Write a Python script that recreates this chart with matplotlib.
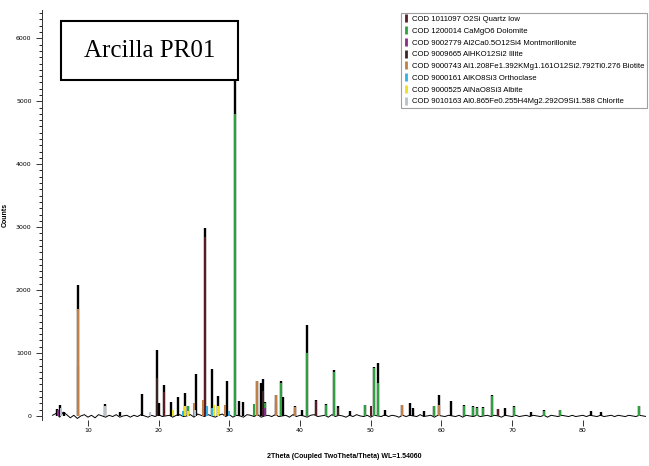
import matplotlib.pyplot as plt
from matplotlib.lines import Line2D
from matplotlib.patches import Rectangle

# measured pattern: peak positions (2theta) and heights (counts)
peak_pos = [5.6, 6.1, 6.6, 8.6, 12.4, 14.5, 17.6, 19.7, 20.0, 20.7, 21.8, 22.7,
            23.7, 24.1, 25.3, 26.5, 27.6, 28.4, 29.7, 30.85, 31.3, 31.9, 33.9,
            34.5, 34.8, 35.1, 36.6, 37.3, 37.6, 39.3, 40.3, 41.0, 42.3, 43.7,
            44.8, 45.3, 47.0, 49.2, 50.4, 51.0, 52.0, 54.4, 55.5, 56.0, 57.5,
            58.9, 59.7, 61.4, 63.2, 64.4, 65.1, 65.9, 67.2, 68.0, 69.0, 70.3,
            72.7, 74.5, 76.8, 81.1, 82.5, 87.9]
peak_cnt = [110, 170, 60, 2080, 190, 60, 350, 1050, 210, 490, 220, 300,
            370, 150, 670, 2980, 740, 320, 550, 6200, 230, 220, 560,
            520, 590, 220, 330, 560, 300, 150, 100, 1440, 250, 190,
            730, 150, 80, 180, 780, 840, 100, 170, 200, 120, 80,
            160, 330, 240, 170, 150, 140, 140, 330, 110, 130, 150,
            60, 90, 100, 80, 70, 160]

# background wiggle, one value per half degree from 5 to 89
bg_x = [5 + 0.5 * i for i in range(169)]
bg_y = [10, 40, -20, 60, 20, -30, 10, -40, 0, 20, -20, 10, -30, 20, 0, -20,
        10, -10, 20, -20, 0, 10, -20, 10, -10, 20, 0, -20, 10, -10, 20, -10,
        0, 10, -20, 10, 20, -10, 0, 20, -20, 30, 10, -10, 20, 0, -20, 10,
        30, -10, 20, -20, 10, 0, -20, 20, 10, -10, 20, -20, 0, 10, -10, 20,
        -10, 0, 10, -20, 20, -10, 10, 0, -20, 10, 20, -10, 0, 10, -20, 20,
        -10, 10, 0, -20, 10, -10, 20, 0, -10, 10, -20, 10, 0, -10, 20, -10,
        10, 0, -20, 10, -10, 10, 0, -10, 20, -10, 0, 10, -20, 10, 0, -10,
        10, 0, -10, 10, -20, 10, 0, -10, 10, -10, 0, 10, -10, 10, 0, -20,
        10, 0, -10, 10, -10, 0, 10, -10, 10, 0, -10, 10, -20, 10, 0, -10,
        10, 0, -10, 10, -10, 0, 10, -10, 10, 0, -10, 10, -10, 0, 10, -10,
        10, 0, -10, 10, 0, -10, 10, 0, -10]

phases = [
    ("COD 1011097 O2Si Quartz low", "#5c1a22",
     [20.7, 26.5, 36.6, 39.3, 42.3, 50.1, 59.7, 68.0],
     [380, 2850, 200, 120, 230, 150, 150, 110]),
    ("COD 1200014 CaMgO6 Dolomite", "#2ea040",
     [24.1, 30.85, 33.5, 35.1, 37.3, 41.0, 43.7, 44.8, 49.2, 50.4, 51.0,
      58.9, 63.2, 64.4, 65.1, 65.9, 67.2, 70.3, 74.5, 76.8, 87.9],
     [150, 4800, 190, 200, 520, 1000, 180, 700, 170, 760, 520,
      150, 160, 140, 130, 130, 320, 140, 80, 90, 150]),
    ("COD 9002779 Al2Ca0.5O12Si4 Montmorillonite", "#8a2a8a",
     [5.8, 19.7, 35.0], [100, 150, 120]),
    ("COD 9009665 AlHKO12Si2 Illite", "#3d2424",
     [8.6, 19.7, 34.8, 45.3], [800, 600, 400, 120]),
    ("COD 9000743 Al1.208Fe1.392KMg1.161O12Si2.792Ti0.276 Biotite", "#c08045",
     [8.6, 25.0, 26.3, 29.4, 33.9, 36.6, 39.3, 54.4, 59.7],
     [1700, 200, 250, 170, 560, 330, 140, 170, 180]),
    ("COD 9000161 AlKO8Si3 Orthoclase", "#30b0e8",
     [23.5, 26.9, 27.6, 29.9], [80, 150, 120, 80]),
    ("COD 9000525 AlNaO8Si3 Albite", "#e8e020",
     [22.0, 23.7, 24.2, 27.9, 28.4], [100, 150, 80, 180, 150]),
    ("COD 9010163 Al0.865Fe0.255H4Mg2.292O9Si1.588 Chlorite", "#b8c0cc",
     [6.2, 12.4, 18.8, 25.1], [120, 150, 60, 100]),
]

fig = plt.figure(figsize=(6.49, 4.66), dpi=100)
ax = fig.add_axes([0.0647, 0.0987, 0.9303, 0.8798])

ax.plot(bg_x, bg_y, color="black", lw=0.7, zorder=2)
ax.vlines(peak_pos, 0, peak_cnt, color="black", lw=1.7, zorder=2)
for name, col, pos, cnt in phases:
    ax.vlines(pos, 0, cnt, color=col, lw=1.5, zorder=3)

ax.set_xlim(3.5, 88.9)
ax.set_ylim(-65, 6450)
ax.set_xticks(range(10, 90, 10))
ax.set_yticks(range(0, 7000, 1000))
ax.set_yticks(range(0, 6500, 100), minor=True)
ax.tick_params(axis="both", labelsize=4.5, length=4, width=0.7, color="#333333")
ax.tick_params(axis="y", which="minor", length=2, width=0.6)
ax.tick_params(axis="x", pad=2)
for s in ["top", "right", "bottom"]:
    ax.spines[s].set_visible(False)
ax.spines["left"].set_color("#333333")
ax.spines["left"].set_linewidth(0.7)

ax.set_xlabel("2Theta (Coupled TwoTheta/Theta) WL=1.54060", fontsize=5,
              family="Liberation Sans", fontweight="bold", labelpad=14)
ax.set_ylabel("Counts", fontsize=5, family="Liberation Sans",
              fontweight="bold", labelpad=5)

handles = [Line2D([], [], marker="|", ls="none", color=c, markersize=6,
                  markeredgewidth=2) for _, c, _, _ in phases]
leg = fig.legend(handles, [p[0] for p in phases], loc="upper right",
                 bbox_to_anchor=(647 / 649, 1 - 13 / 466),
                 frameon=True, fancybox=False, handlelength=0.5,
                 handletextpad=0.5, labelspacing=0.55, borderpad=0.35,
                 borderaxespad=0, prop={"family": "Liberation Sans",
                                        "size": 5.6})
leg.get_frame().set_edgecolor("#888888")
leg.get_frame().set_linewidth(0.8)

# sample label box
fig.patches.append(Rectangle((61 / 649, 1 - 80 / 466), 177 / 649, 59 / 466,
                             transform=fig.transFigure, facecolor="white",
                             edgecolor="black", lw=1.5, zorder=5))
fig.text(149.5 / 649, 1 - 51 / 466, "Arcilla PR01", ha="center", va="center",
         fontsize=18, family="Liberation Serif", zorder=6)

fig.savefig("out.png", dpi=100)
